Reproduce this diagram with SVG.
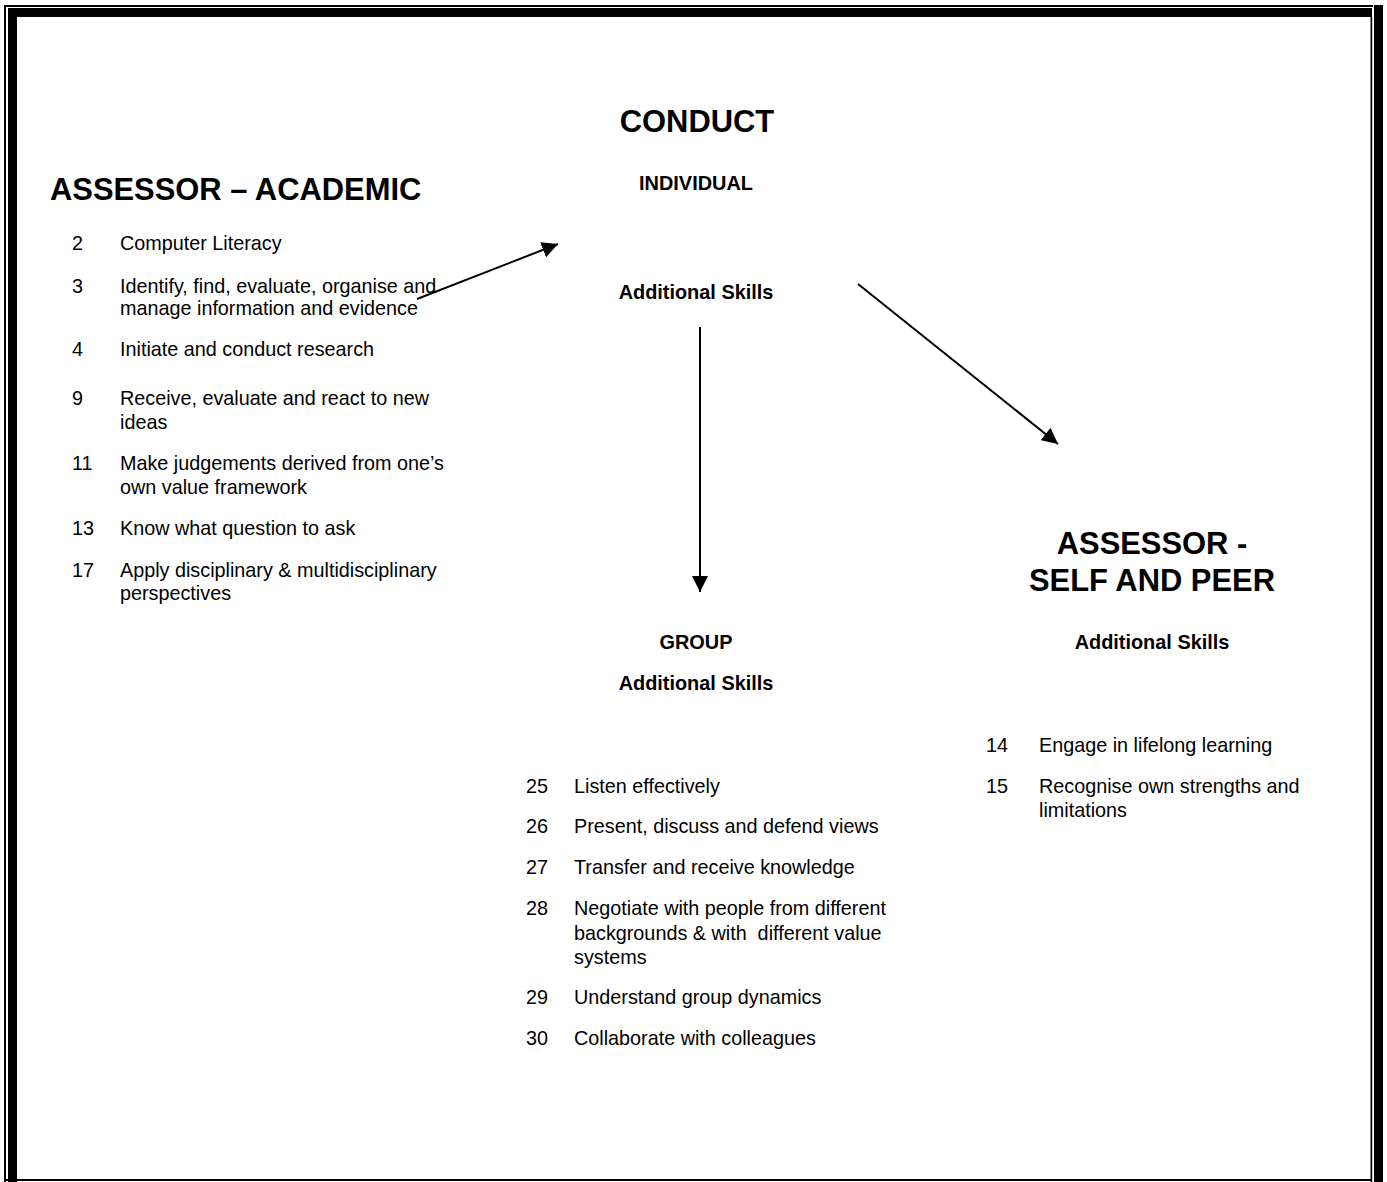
<svg xmlns="http://www.w3.org/2000/svg" width="1387" height="1182" viewBox="0 0 1387 1182">
<style>
  text { font-family: "Liberation Sans", Arial, sans-serif; fill: #000; }
  .h1 { font-size: 30.9px; font-weight: bold; }
  .h2 { font-size: 19.9px; font-weight: bold; }
  .t { font-size: 19.8px; }
  .mid { text-anchor: middle; }
  .conn { stroke: #000; stroke-width: 2; fill: none; }
</style>
<defs>
  <marker id="ah" viewBox="0 0 16 16" refX="16" refY="8" markerWidth="16" markerHeight="16" markerUnits="userSpaceOnUse" orient="auto">
    <path d="M0,0 L16,8 L0,16 Z" fill="#000"/>
  </marker>
</defs>
<rect width="1387" height="1182" fill="#fff"/>
<g id="border" fill="#000">
  <rect x="4" y="5" width="1369" height="2"/>
  <rect x="8" y="8" width="1364" height="9"/>
  <rect x="4" y="5" width="2" height="1177"/>
  <rect x="8" y="8" width="9" height="1174"/>
  <rect x="1370.5" y="17" width="1.7" height="1165"/>
  <rect x="1374" y="5" width="9" height="1177"/>
  <rect x="4" y="1179" width="1368" height="2"/>
</g>
<g id="connectors">
  <line class="conn" x1="417" y1="299" x2="558" y2="244" marker-end="url(#ah)"/>
  <line class="conn" x1="700" y1="327" x2="700" y2="592" marker-end="url(#ah)"/>
  <line class="conn" x1="858" y1="284" x2="1058" y2="444" marker-end="url(#ah)"/>
</g>
<g id="node-assessor-academic">
  <text class="h1" x="50" y="200">ASSESSOR – ACADEMIC</text>
  <text class="t" x="72" y="250">2</text><text class="t" x="120" y="250">Computer Literacy</text>
  <text class="t" x="72" y="293">3</text><text class="t" x="120" y="293">Identify, find, evaluate, organise and</text>
  <text class="t" x="120" y="315">manage information and evidence</text>
  <text class="t" x="72" y="356">4</text><text class="t" x="120" y="356">Initiate and conduct research</text>
  <text class="t" x="72" y="405">9</text><text class="t" x="120" y="405">Receive, evaluate and react to new</text>
  <text class="t" x="120" y="429">ideas</text>
  <text class="t" x="72" y="470">11</text><text class="t" x="120" y="470">Make judgements derived from one’s</text>
  <text class="t" x="120" y="494">own value framework</text>
  <text class="t" x="72" y="535">13</text><text class="t" x="120" y="535">Know what question to ask</text>
  <text class="t" x="72" y="577">17</text><text class="t" x="120" y="577">Apply disciplinary &amp; multidisciplinary</text>
  <text class="t" x="120" y="600">perspectives</text>
</g>
<g id="node-conduct">
  <text class="h1 mid" x="697" y="132">CONDUCT</text>
  <text class="h2 mid" x="696" y="190">INDIVIDUAL</text>
  <text class="h2 mid" x="696" y="299">Additional Skills</text>
</g>
<g id="node-group">
  <text class="h2 mid" x="696" y="649">GROUP</text>
  <text class="h2 mid" x="696" y="690">Additional Skills</text>
  <text class="t" x="526" y="793">25</text><text class="t" x="574" y="793">Listen effectively</text>
  <text class="t" x="526" y="833">26</text><text class="t" x="574" y="833">Present, discuss and defend views</text>
  <text class="t" x="526" y="874">27</text><text class="t" x="574" y="874">Transfer and receive knowledge</text>
  <text class="t" x="526" y="915">28</text><text class="t" x="574" y="915">Negotiate with people from different</text>
  <text class="t" x="574" y="940" xml:space="preserve">backgrounds &amp; with  different value</text>
  <text class="t" x="574" y="964">systems</text>
  <text class="t" x="526" y="1004">29</text><text class="t" x="574" y="1004">Understand group dynamics</text>
  <text class="t" x="526" y="1045">30</text><text class="t" x="574" y="1045">Collaborate with colleagues</text>
</g>
<g id="node-assessor-self-peer">
  <text class="h1 mid" x="1152" y="554">ASSESSOR -</text>
  <text class="h1 mid" x="1152" y="591">SELF AND PEER</text>
  <text class="h2 mid" x="1152" y="649">Additional Skills</text>
  <text class="t" x="986" y="752">14</text><text class="t" x="1039" y="752">Engage in lifelong learning</text>
  <text class="t" x="986" y="793">15</text><text class="t" x="1039" y="793">Recognise own strengths and</text>
  <text class="t" x="1039" y="817">limitations</text>
</g>
</svg>
